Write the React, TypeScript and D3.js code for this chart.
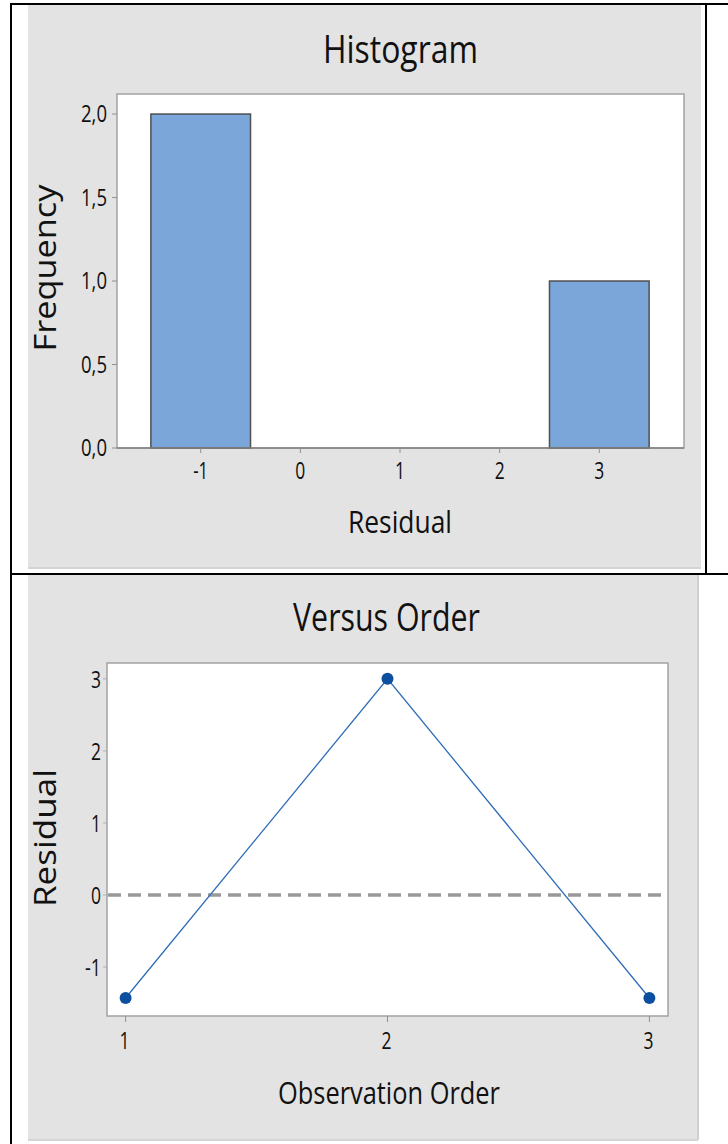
import React from "react";
import * as d3 from "d3";

// ---------- data ----------
const histBinCenters = [-1, 0, 1, 2, 3];
const histCounts = [2, 0, 0, 0, 1];
const histXTicks = [-1, 0, 1, 2, 3];
const histYTicks = [0, 0.5, 1, 1.5, 2];

const orderObs = [1, 2, 3];
const orderResiduals = [-1.43, 3, -1.43];
const orderXTicks = [1, 2, 3];
const orderYTicks = [-1, 0, 1, 2, 3];

const FONT = "'Open Sans', 'DejaVu Sans', sans-serif";
const TXT = "#111";

export default function App() {
  // Histogram scales
  const hx = d3.scaleLinear().domain([-1.84, 3.85]).range([117, 684]);
  const hy = d3.scaleLinear().domain([0, 2.12]).range([448, 94]);
  const commaFmt = (v: number) => d3.format(".1f")(v).replace(".", ",");

  // Versus order scales
  const ox = d3.scaleLinear().domain([0.929, 3.071]).range([107, 668]);
  const oy = d3.scaleLinear().domain([-1.68, 3.22]).range([1016, 663]);
  const line = d3
    .line<number>()
    .x((_, i) => ox(orderObs[i]))
    .y((d) => oy(d));

  const binW = 1;

  return (
    <svg
      width={728}
      height={1144}
      style={{ position: "absolute", left: 0, top: 0, background: "#fff" }}
      fontFamily={FONT}
    >
      {/* panels */}
      <rect x={28} y={5} width={673} height={564} fill="#e3e3e3" />
      <rect x={28} y={567} width={673} height={2} fill="#d4d4d4" />
      <rect x={28} y={575} width={670} height={565} fill="#e3e3e3" />
      <rect x={697} y={575} width={2} height={565} fill="#d0d0d0" />
      <rect x={28} y={1139} width={670} height={2} fill="#d4d4d4" />

      {/* table borders */}
      <line x1={11} y1={4} x2={728} y2={4} stroke="#000" strokeWidth={2} />
      <line x1={11} y1={3} x2={11} y2={1144} stroke="#000" strokeWidth={2} />
      <line x1={706} y1={3} x2={706} y2={575} stroke="#000" strokeWidth={2} />
      <line x1={11} y1={574} x2={728} y2={574} stroke="#000" strokeWidth={2} />

      {/* ===== Histogram ===== */}
      <text x={400.5} y={63} fontSize={39} textAnchor="middle" fill={TXT} textLength={155} lengthAdjust="spacingAndGlyphs">
        Histogram
      </text>
      <rect x={117} y={94} width={567} height={354} fill="#fff" stroke="#a3a3a3" strokeWidth={1.5} />
      {histCounts.map((c, i) =>
        c > 0 ? (
          <rect
            key={i}
            x={hx(histBinCenters[i] - binW / 2)}
            y={hy(c)}
            width={hx(histBinCenters[i] + binW / 2) - hx(histBinCenters[i] - binW / 2)}
            height={hy(0) - hy(c)}
            fill="#7ba6d9"
            stroke="#505050"
            strokeWidth={1.5}
          />
        ) : null
      )}
      <line x1={117} y1={448} x2={684} y2={448} stroke="#808080" strokeWidth={1.5} />
      {histYTicks.map((t) => (
        <g key={"hy" + t}>
          <line x1={112} x2={117} y1={hy(t)} y2={hy(t)} stroke="#909090" strokeWidth={1} />
          <text x={107} y={hy(t) + 8} fontSize={23} textAnchor="end" fill={TXT} textLength={26} lengthAdjust="spacingAndGlyphs">
            {commaFmt(t)}
          </text>
        </g>
      ))}
      {histXTicks.map((t) => (
        <g key={"hx" + t}>
          <line x1={hx(t)} x2={hx(t)} y1={448} y2={453} stroke="#909090" strokeWidth={1} />
          <text x={hx(t)} y={479} fontSize={23} textAnchor="middle" fill={TXT} textLength={t < 0 ? 15 : 10} lengthAdjust="spacingAndGlyphs">
            {String(t)}
          </text>
        </g>
      ))}
      <text x={400} y={533} fontSize={31} textAnchor="middle" fill={TXT} textLength={104} lengthAdjust="spacingAndGlyphs">
        Residual
      </text>
      <text
        transform={`translate(56, 268) rotate(-90)`}
        fontSize={31}
        textAnchor="middle"
        fill={TXT}
        textLength={167}
        lengthAdjust="spacingAndGlyphs"
      >
        Frequency
      </text>

      {/* ===== Versus Order ===== */}
      <text x={386.5} y={631} fontSize={39} textAnchor="middle" fill={TXT} textLength={187} lengthAdjust="spacingAndGlyphs">
        Versus Order
      </text>
      <rect x={107} y={663} width={561} height={353} fill="#fff" stroke="#a3a3a3" strokeWidth={1.5} />
      <line
        x1={108}
        x2={667}
        y1={oy(0)}
        y2={oy(0)}
        stroke="#999999"
        strokeWidth={3.5}
        strokeDasharray="13,7"
      />
      <path d={line(orderResiduals) || ""} fill="none" stroke="#2f6db8" strokeWidth={1.3} />
      {orderResiduals.map((r, i) => (
        <circle key={"pt" + i} cx={ox(orderObs[i])} cy={oy(r)} r={6} fill="#0b4f9e" />
      ))}
      {orderYTicks.map((t) => (
        <g key={"oy" + t}>
          <line x1={103} x2={107} y1={oy(t)} y2={oy(t)} stroke="#b0b0b0" strokeWidth={1} />
          <text x={101} y={oy(t) + 9} fontSize={24} textAnchor="end" fill={TXT} textLength={t < 0 ? 16 : 10} lengthAdjust="spacingAndGlyphs">
            {String(t)}
          </text>
        </g>
      ))}
      {orderXTicks.map((t) => (
        <g key={"ox" + t}>
          <line x1={ox(t)} x2={ox(t)} y1={1016} y2={1022} stroke="#909090" strokeWidth={1} />
          <text x={ox(t) - 1} y={1049} fontSize={24} textAnchor="middle" fill={TXT} textLength={10} lengthAdjust="spacingAndGlyphs">
            {String(t)}
          </text>
        </g>
      ))}
      <text x={389} y={1104} fontSize={31} textAnchor="middle" fill={TXT} textLength={222} lengthAdjust="spacingAndGlyphs">
        Observation Order
      </text>
      <text
        transform={`translate(56, 838) rotate(-90)`}
        fontSize={31}
        textAnchor="middle"
        fill={TXT}
        textLength={138}
        lengthAdjust="spacingAndGlyphs"
      >
        Residual
      </text>
    </svg>
  );
}
